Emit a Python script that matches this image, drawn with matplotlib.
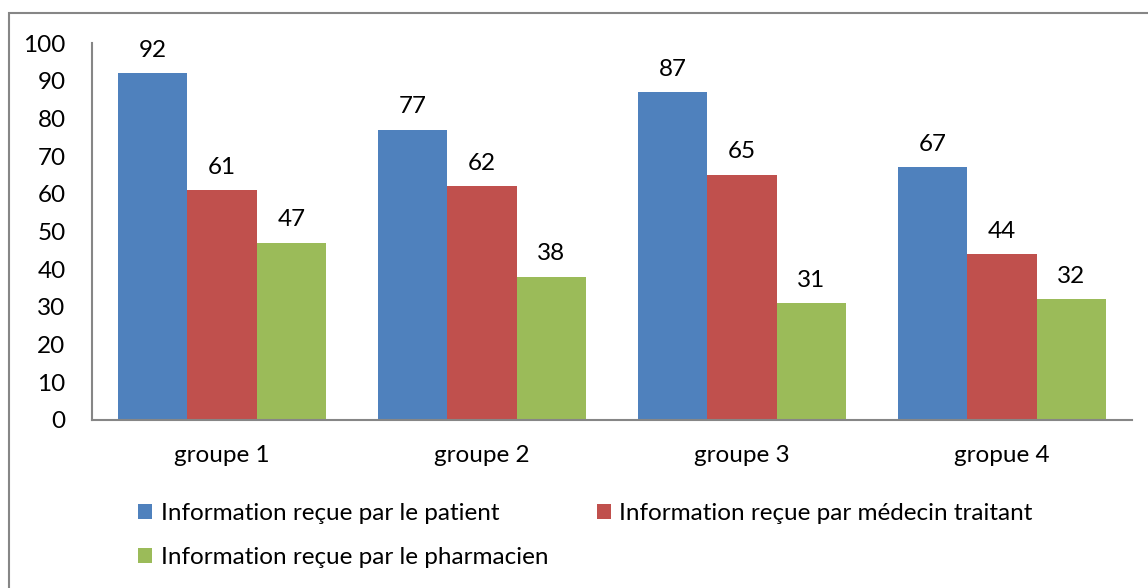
import matplotlib
matplotlib.use("Agg")
import matplotlib.pyplot as plt
from matplotlib.patches import Rectangle
import numpy as np

# donnees
groupes = ["groupe 1", "groupe 2", "groupe 3", "gropue 4"]
patient = [92, 77, 87, 67]
medecin = [61, 62, 65, 44]
pharmacien = [47, 38, 31, 32]
series = ["Information reçue par le patient",
          "Information reçue par médecin traitant",
          "Information reçue par le pharmacien"]
couleurs = ["#4F81BD", "#C0504D", "#9BBB59"]

plt.rcParams['font.family'] = ['Lato', 'DejaVu Sans']
fs = 17.5

W, H = 1148, 588
fig = plt.figure(figsize=(W / 100, H / 100), dpi=100)
ax = fig.add_axes([92 / W, 1 - 420 / H, (1132 - 92) / W, (420 - 43) / H])

# cadre exterieur
fig.patches.append(Rectangle((9 / W, -0.1), 1.2, 1 - 13 / H + 0.1,
                             transform=fig.transFigure, fill=False,
                             edgecolor="#868686", linewidth=1.5))

x = np.arange(len(groupes))
w = 0.8 / 3
handles = []
for i, (vals, lab, c) in enumerate(zip([patient, medecin, pharmacien], series, couleurs)):
    b = ax.bar(x + (i - 1) * w, vals, w, color=c, label=lab)
    ax.bar_label(b, padding=9, fontsize=fs)
    handles.append(b)

ax.set_xlim(-0.5, len(groupes) - 0.5)
ax.set_ylim(0, 100)
ax.set_yticks(range(0, 101, 10))
ax.set_xticks(x, groupes)
ax.tick_params(axis='both', length=0, labelsize=fs)
ax.tick_params(axis='x', pad=18)
ax.tick_params(axis='y', pad=19)
for s in ['top', 'right']:
    ax.spines[s].set_visible(False)
for s in ['left', 'bottom']:
    ax.spines[s].set_color("#868686")
    ax.spines[s].set_linewidth(1.5)

# ordre pour remplir ligne par ligne
order = [0, 2, 1]
fig.legend([handles[k] for k in order], [series[k] for k in order],
           loc='upper left', bbox_to_anchor=(126 / W, 1 - 491 / H),
           ncol=2, frameon=False, fontsize=fs, borderpad=0,
           handlelength=0.58, handleheight=0.58, handletextpad=0.35,
           columnspacing=2.0, labelspacing=0.95)

fig.savefig("out.png", dpi=100)
